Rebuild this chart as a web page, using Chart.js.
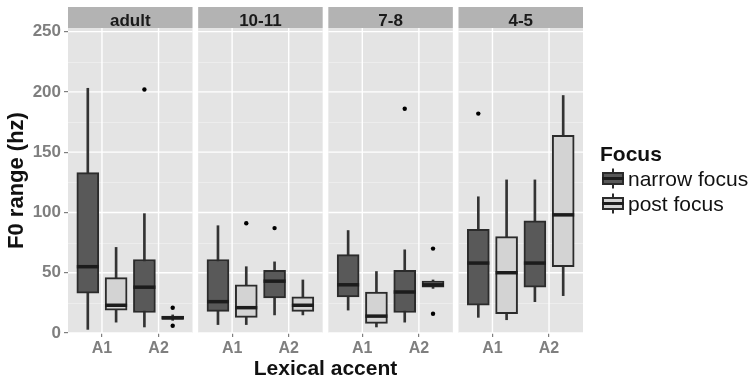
<!DOCTYPE html>
<html>
<head>
<meta charset="utf-8">
<title>F0 range by lexical accent</title>
<script src="https://cdn.jsdelivr.net/npm/chart.js@4.4.1/dist/chart.umd.min.js"></script>
<style>
  html, body { margin: 0; padding: 0; background: #fff; }
  #wrap { position: relative; width: 753px; height: 381px; }
</style>
</head>
<body>
<div id="wrap"><canvas id="f0Chart"></canvas></div>
<script>
// facets (age groups) and x categories
const panels = ['adult', '10-11', '7-8', '4-5'];
const accents = ['A1', 'A2'];
const yTicks = [0, 50, 100, 150, 200, 250];

// box stats: [lower whisker, q1, median, q3, upper whisker]
// order: adult A1, adult A2, 10-11 A1, 10-11 A2, 7-8 A1, 7-8 A2, 4-5 A1, 4-5 A2
const narrowFocus = [
    [3, 33, 55, 133, 203],
    [5, 17, 38, 61, 99],
    [7, 18, 26, 61, 89],
    [15, 29, 43, 52, 59],
    [19, 30, 40, 65, 85],
    [9, 17, 34, 52, 69],
    [13, 23, 58, 86, 113],
    [26, 38, 58, 93, 127]
];
const postFocus = [
    [9, 19, 23, 46, 71],
    [10.5, 11.5, 12.5, 14, 15],
    [7, 13, 21, 40, 55],
    [15, 18, 23, 30, 44],
    [5, 8, 14, 34, 51],
    [37, 38, 40, 43, 44],
    [11, 16, 50, 80, 127],
    [31, 55, 98, 164, 197]
];
const narrowOutliers = [[], [202], [], [87], [], [186], [182], []];
const postOutliers = [[], [21, 6], [91], [], [], [70, 16], [], []];

// facet geometry in x-units (discrete scale expanded by 0.6 on each side)
const PANEL_W = 2.2;
const PANEL_STEP = 2.3;
const DODGE = 0.25;
const FONT = "'Liberation Sans', Arial, Helvetica, sans-serif";

function groupX(k) {
    const p = Math.floor(k / accents.length);
    const a = k % accents.length;
    return p * PANEL_STEP + 0.6 + a;
}

function boxSeries(stats, outliers, dx, fill, label) {
    const whiskers = stats.map((s, k) => ({ x: groupX(k) + dx, y: [s[0], s[4]] }));
    const boxes = stats.map((s, k) => ({ x: groupX(k) + dx, y: [s[1], s[3]] }));
    const medians = stats.map((s, k) => ({ x: groupX(k) + dx, y: s[2] }));
    const points = [];
    outliers.forEach((list, k) => list.forEach(v => points.push({ x: groupX(k) + dx, y: v })));
    return [
        { type: 'bar', label: label + ' whisker', data: whiskers, grouped: false, barThickness: 2,
          backgroundColor: '#333333', borderWidth: 0, order: 4 },
        { type: 'bar', label: label, data: boxes, grouped: false, barThickness: 22,
          backgroundColor: fill, borderColor: '#2b2b2b', borderWidth: 2, borderSkipped: false, order: 3 },
        { type: 'scatter', label: label + ' median', data: medians, pointStyle: 'line', pointRadius: 11,
          pointBorderWidth: 3.5, pointBorderColor: '#1c1c1c', order: 2 },
        { type: 'scatter', label: label + ' outliers', data: points, pointRadius: 2.2,
          pointBackgroundColor: '#000', pointBorderWidth: 0, order: 1 }
    ];
}

const legendItems = [
    { label: 'narrow focus', fill: '#595959' },
    { label: 'post focus', fill: '#d3d3d3' }
];

// panel backgrounds, grid lines and strip labels
const facetPlugin = {
    id: 'facets',
    beforeDatasetsDraw(chart) {
        const { ctx, chartArea, scales: { x, y } } = chart;
        ctx.save();
        panels.forEach((name, i) => {
            const x0 = x.getPixelForValue(i * PANEL_STEP);
            const x1 = x.getPixelForValue(i * PANEL_STEP + PANEL_W);
            ctx.fillStyle = '#e4e4e4';
            ctx.fillRect(x0, chartArea.top, x1 - x0, chartArea.bottom - chartArea.top);

            ctx.strokeStyle = '#f1f1f1';
            ctx.lineWidth = 0.7;
            for (let t = 0; t < yTicks.length - 1; t++) {
                const py = Math.round(y.getPixelForValue((yTicks[t] + yTicks[t + 1]) / 2)) + 0.5;
                ctx.beginPath(); ctx.moveTo(x0, py); ctx.lineTo(x1, py); ctx.stroke();
            }
            ctx.strokeStyle = '#ffffff';
            ctx.lineWidth = 1.4;
            yTicks.forEach(v => {
                const py = y.getPixelForValue(v);
                ctx.beginPath(); ctx.moveTo(x0, py); ctx.lineTo(x1, py); ctx.stroke();
            });
            accents.forEach((a, j) => {
                const px = x.getPixelForValue(i * PANEL_STEP + 0.6 + j);
                ctx.beginPath(); ctx.moveTo(px, chartArea.top); ctx.lineTo(px, chartArea.bottom); ctx.stroke();
            });

            // strip
            ctx.fillStyle = '#b3b3b3';
            ctx.fillRect(x0, chartArea.top - 21, x1 - x0, 21);
            ctx.fillStyle = '#1a1a1a';
            ctx.font = 'bold 17px ' + FONT;
            ctx.textAlign = 'center';
            ctx.textBaseline = 'alphabetic';
            ctx.fillText(name, (x0 + x1) / 2, chartArea.top - 2.5);
        });
        ctx.restore();
    },
    afterDraw(chart) {
        const { ctx } = chart;
        ctx.save();
        ctx.fillStyle = '#111';
        ctx.textAlign = 'left';
        ctx.textBaseline = 'alphabetic';
        ctx.font = 'bold 21px ' + FONT;
        ctx.fillText('Focus', 600, 161);
        legendItems.forEach((item, i) => {
            const cy = 178.5 + i * 25;
            ctx.strokeStyle = '#2b2b2b';
            ctx.lineWidth = 2;
            ctx.beginPath(); ctx.moveTo(613, cy - 10); ctx.lineTo(613, cy + 10); ctx.stroke();
            ctx.fillStyle = item.fill;
            ctx.fillRect(602, cy - 6.5, 22, 13);
            ctx.strokeRect(603, cy - 5.5, 20, 11);
            ctx.lineWidth = 3;
            ctx.strokeStyle = '#1c1c1c';
            ctx.beginPath(); ctx.moveTo(602, cy); ctx.lineTo(624, cy); ctx.stroke();
            ctx.fillStyle = '#111';
            ctx.font = '21px ' + FONT;
            ctx.fillText(item.label, 628, cy + 7.5);
        });
        ctx.restore();
    }
};

function initializeChart() {
    const ctx = document.getElementById('f0Chart');
    const tickPositions = [];
    panels.forEach((p, i) => accents.forEach((a, j) => tickPositions.push(i * PANEL_STEP + 0.6 + j)));

    new Chart(ctx, {
        type: 'bar',
        data: {
            datasets: [
                ...boxSeries(narrowFocus, narrowOutliers, -DODGE, legendItems[0].fill, 'narrow focus'),
                ...boxSeries(postFocus, postOutliers, DODGE, legendItems[1].fill, 'post focus')
            ]
        },
        options: {
            responsive: true,
            maintainAspectRatio: false,
            animation: false,
            events: [],
            layout: { padding: { top: 28, right: 170, left: 0, bottom: 0 } },
            plugins: {
                legend: { display: false },
                tooltip: { enabled: false }
            },
            scales: {
                x: {
                    type: 'linear',
                    min: 0,
                    max: PANEL_STEP * (panels.length - 1) + PANEL_W,
                    offset: false,
                    grid: { offset: false, drawOnChartArea: false, drawTicks: true, tickLength: 4, color: '#7f7f7f', lineWidth: 1.2 },
                    border: { display: false },
                    afterBuildTicks: scale => { scale.ticks = tickPositions.map(v => ({ value: v })); },
                    afterFit: scale => { scale.height = 48; },
                    ticks: {
                        autoSkip: false,
                        maxRotation: 0,
                        padding: 2,
                        color: '#7f7f7f',
                        font: { family: FONT, size: 16, weight: 'bold' },
                        callback: (value, index) => accents[index % accents.length]
                    },
                    title: {
                        display: true,
                        text: 'Lexical accent',
                        color: '#111',
                        font: { family: FONT, size: 21, weight: 'bold', lineHeight: 1.1 },
                        padding: { top: 0, bottom: 0 }
                    }
                },
                y: {
                    min: 0,
                    max: 253,
                    grid: { drawOnChartArea: false, drawTicks: true, tickLength: 4, color: '#7f7f7f', lineWidth: 1.2 },
                    border: { display: false },
                    afterBuildTicks: scale => { scale.ticks = yTicks.map(v => ({ value: v })); },
                    afterFit: scale => { scale.width = 68; },
                    ticks: {
                        padding: 3,
                        color: '#7f7f7f',
                        font: { family: FONT, size: 17, weight: 'bold' }
                    },
                    title: {
                        display: true,
                        text: 'F0 range (hz)',
                        color: '#111',
                        font: { family: FONT, size: 22, weight: 'bold', lineHeight: 1.2 },
                        padding: { top: 4, bottom: 0 }
                    }
                }
            }
        },
        plugins: [facetPlugin]
    });
}

if (document.readyState === 'loading') {
    document.addEventListener('DOMContentLoaded', initializeChart);
} else {
    initializeChart();
}
</script>
</body>
</html>
